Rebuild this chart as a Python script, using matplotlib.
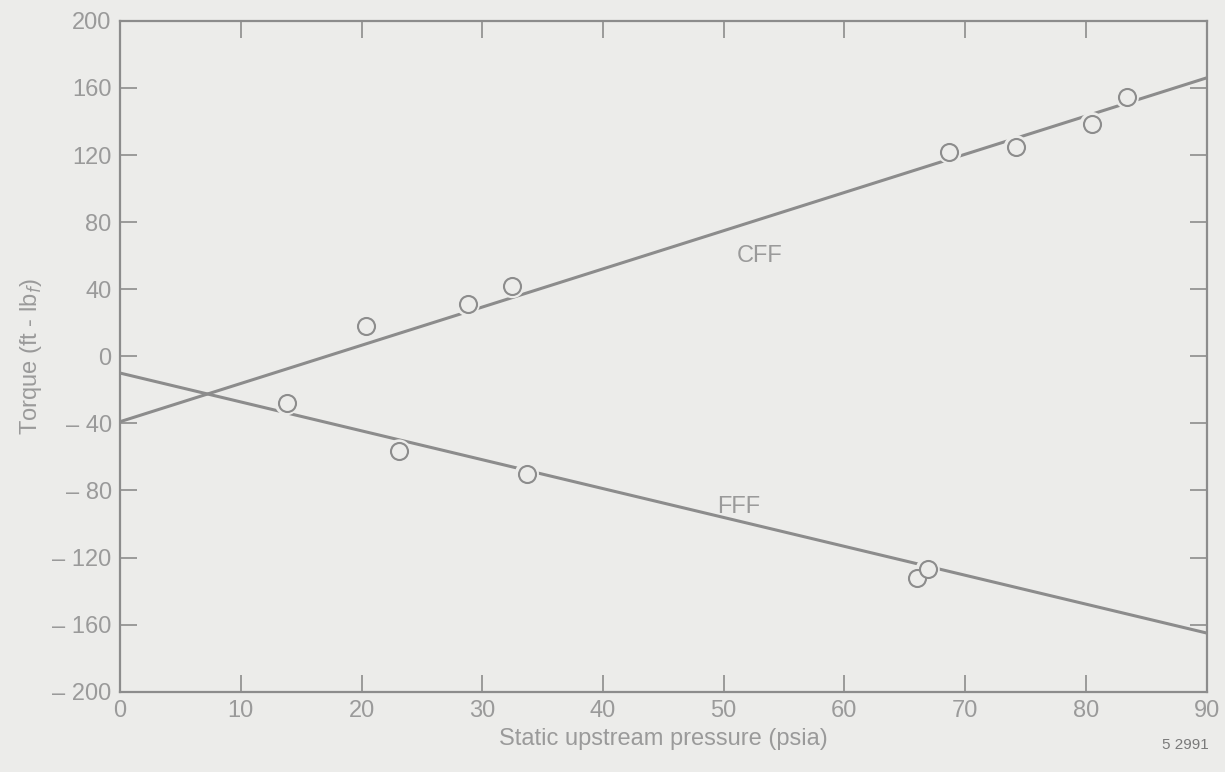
import numpy as np
import matplotlib
matplotlib.use('Agg')
import matplotlib.pyplot as plt

# fitted lines (torque at 0 and 90 psia)
line_x = [0, 90]
cff_line = [-39, 166]
fff_line = [-10, -165]

# measured points
cff_x = [20.4, 28.8, 32.5, 68.7, 74.2, 80.5, 83.4]
cff_y = [17.9, 31.0, 41.8, 121.8, 124.8, 138.5, 154.6]
fff_x = [13.8, 23.1, 33.7, 66.0, 66.9]
fff_y = [-28.0, -56.7, -69.9, -132.0, -127.0]

BG = '#ececea'
INK = '#8c8c8c'
TXT = '#9a9a9a'

plt.rcParams['font.family'] = ['Liberation Sans', 'DejaVu Sans']

fig = plt.figure(figsize=(12.25, 7.72), dpi=100, facecolor=BG)
ax = fig.add_axes([0.098, 0.104, 0.887, 0.869], facecolor=BG)

ax.plot(line_x, cff_line, color=INK, lw=2.2, zorder=2)
ax.plot(line_x, fff_line, color=INK, lw=2.2, zorder=2)

# open circles, with a small background halo to break the line
for xs, ys in [(cff_x, cff_y), (fff_x, fff_y)]:
    ax.scatter(xs, ys, s=300, color=BG, edgecolors='none', zorder=3)
    ax.scatter(xs, ys, s=150, facecolors=BG, edgecolors=INK, linewidths=1.5, zorder=4)

ax.text(53, 60, 'CFF', color=TXT, fontsize=17, ha='center', va='center')
ax.text(51.2, -89.6, 'FFF', color=TXT, fontsize=17, ha='center', va='center')

ax.set_xlim(0, 90)
ax.set_ylim(-200, 200)
ax.set_xticks(np.arange(0, 91, 10))
ax.set_yticks(np.arange(-200, 201, 40))
ax.set_yticklabels([f'{v}' if v >= 0 else f'\u2013 {abs(v)}' for v in range(-200, 201, 40)])

ax.tick_params(direction='in', length=12, width=1.2, color=INK, labelcolor=TXT,
               labelsize=17, top=True, right=True, pad=6)
for s in ax.spines.values():
    s.set_color(INK)
    s.set_linewidth(1.6)

ax.set_xlabel('Static upstream pressure (psia)', color=TXT, fontsize=17, labelpad=4)
ax.set_ylabel('Torque (ft - lb$_f$)', color=TXT, fontsize=17, labelpad=6)

fig.text(0.968, 0.035, '5 2991', color='#7a7a7a', fontsize=11, ha='center', va='center')

fig.savefig('out.png', dpi=100, facecolor=BG)
